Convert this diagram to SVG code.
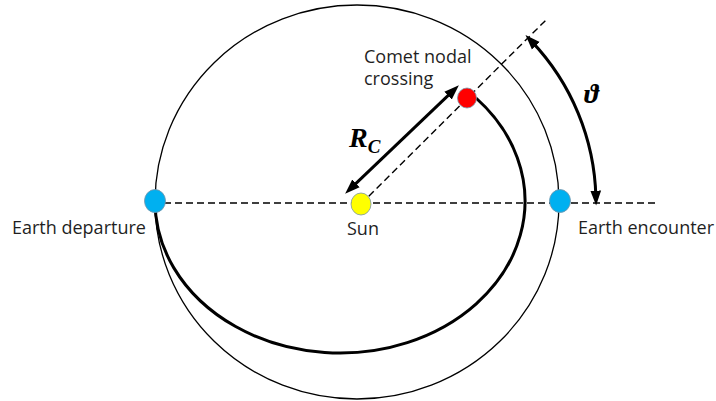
<svg xmlns="http://www.w3.org/2000/svg" width="716" height="401" viewBox="0 0 716 401">
  <style>
    .lbl { font-family: "Open Sans", "Liberation Sans", sans-serif; font-size: 18px; fill: #1f1f1f; }
    .math { font-family: "Liberation Serif", "DejaVu Serif", serif; font-weight: bold; font-style: italic; fill: #000; }
    .dash { fill: none; stroke: #000; stroke-width: 1.4; stroke-dasharray: 7 4; }
    .thin { fill: none; stroke: #000; stroke-width: 1.3; }
    .thick { fill: none; stroke: #000; stroke-width: 3; }
    .arrow { fill: none; stroke: #000; stroke-width: 3; marker-start: url(#ah); marker-end: url(#ah); }
    .dot { stroke: #7a94a8; stroke-width: 0.8; }
  </style>
  <defs>
    <marker id="ah" markerUnits="userSpaceOnUse" markerWidth="15" markerHeight="12" refX="6" refY="5" orient="auto-start-reverse" viewBox="0 0 14 10">
      <path d="M0,0 L14,5 L0,10 z" fill="#000"/>
    </marker>
  </defs>
  <rect width="716" height="401" fill="#fff"/>

  <g id="connectors">
    <ellipse id="earth-orbit" class="thin" cx="357" cy="202" rx="202" ry="197"/>
    <path id="trajectory" class="thick" d="M155,201 A185,152 0 1 0 476,98"/>
    <line class="dash" x1="164" y1="203" x2="656" y2="203"/>
    <line class="dash" x1="361" y1="204" x2="548" y2="18"/>
    <line class="arrow" x1="351.3" y1="187.9" x2="452.7" y2="91.1"/>
    <path class="arrow" d="M531.4,41.1 A235,235 0 0 1 595.9,197"/>
  </g>

  <g id="sun">
    <ellipse class="dot" cx="361" cy="204" rx="10" ry="11" fill="#ffff00"/>
    <text class="lbl" x="347" y="235">Sun</text>
  </g>
  <g id="earth-departure">
    <ellipse class="dot" cx="155" cy="201" rx="10.5" ry="11.5" fill="#00b0f0"/>
    <text class="lbl" x="12" y="234">Earth departure</text>
  </g>
  <g id="earth-encounter">
    <ellipse class="dot" cx="560" cy="201" rx="10.5" ry="11.5" fill="#00b0f0"/>
    <text class="lbl" x="578" y="234">Earth encounter</text>
  </g>
  <g id="comet-nodal-crossing">
    <ellipse class="dot" cx="467" cy="98" rx="9.5" ry="10" fill="#ff0000"/>
    <text class="lbl" x="364" y="63">Comet nodal</text>
    <text class="lbl" x="364" y="85">crossing</text>
  </g>
  <g id="labels">
    <text class="math" x="349" y="147" font-size="28">R<tspan font-size="19" dy="6">C</tspan></text>
    <text class="math" x="584" y="103" font-size="28">ϑ</text>
  </g>
</svg>
